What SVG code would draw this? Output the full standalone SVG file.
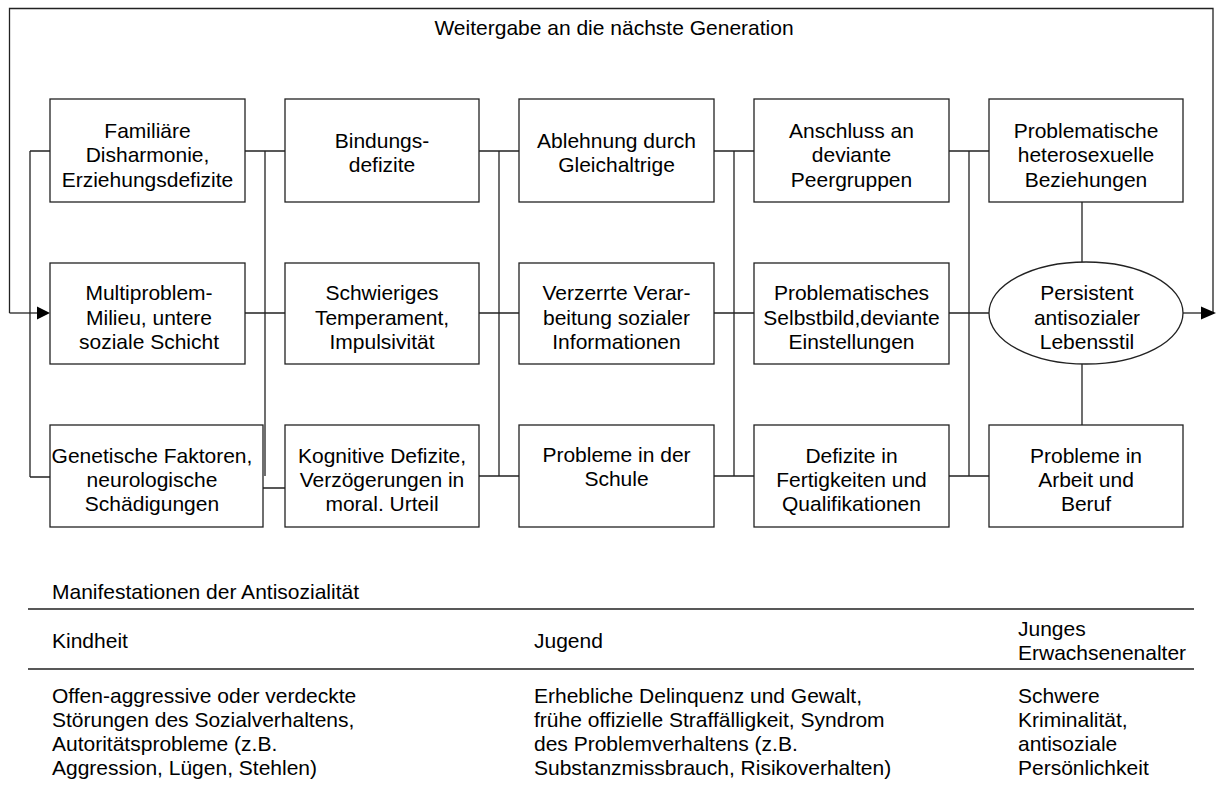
<svg xmlns="http://www.w3.org/2000/svg" width="1220" height="785" viewBox="0 0 1220 785">
<style>
.box{fill:#fff;stroke:#222;stroke-width:1.3}
.ln{fill:none;stroke:#222;stroke-width:1.3}
.t{font-family:"Liberation Sans",Arial,sans-serif;font-size:21px;fill:#000;text-anchor:middle}
.b{font-family:"Liberation Sans",Arial,sans-serif;font-size:21px;fill:#000}
.ah{fill:#000}
</style>
<rect width="1220" height="785" fill="#fff"/>
<text class="t" x="614" y="35">Weitergabe an die nächste Generation</text>

<g id="connectors">
  <path class="ln" d="M9.5,313 V8.5 H1213 V313"/>
  <path class="ln" d="M9.5,313 H38"/>
  <polygon class="ah" points="50,313 37,306.5 37,319.5"/>
  <path class="ln" d="M1183,313 H1202"/>
  <polygon class="ah" points="1216,313 1201,306.5 1201,319.5"/>
  <path class="ln" d="M30,151 V477 M30,151 H50 M30,477 H50"/>
  <path class="ln" d="M265,151 V476 M245,151 H285 M245,313 H285 M256,488 H287"/>
  <path class="ln" d="M499,151 V476 M479,151 H519 M479,313 H519 M479,476 H519"/>
  <path class="ln" d="M734,151 V476 M714,151 H754 M714,313 H754 M714,476 H754"/>
  <path class="ln" d="M969,151 V476 M949,151 H989 M949,313 H989 M949,476 H989"/>
  <path class="ln" d="M1082,202 V262 M1082,364 V425"/>
</g>

<g id="n11"><rect class="box" x="50" y="99" width="195" height="103"/>
<text class="t"><tspan x="147.5" y="138">Familiäre</tspan><tspan x="147.5" y="162">Disharmonie,</tspan><tspan x="147.5" y="187">Erziehungsdefizite</tspan></text></g>
<g id="n12"><rect class="box" x="285" y="99" width="194" height="103"/>
<text class="t"><tspan x="382" y="148">Bindungs-</tspan><tspan x="382" y="172">defizite</tspan></text></g>
<g id="n13"><rect class="box" x="519" y="99" width="195" height="103"/>
<text class="t"><tspan x="616.5" y="148">Ablehnung durch</tspan><tspan x="616.5" y="172">Gleichaltrige</tspan></text></g>
<g id="n14"><rect class="box" x="754" y="99" width="195" height="103"/>
<text class="t"><tspan x="851.5" y="138">Anschluss an</tspan><tspan x="851.5" y="162">deviante</tspan><tspan x="851.5" y="187">Peergruppen</tspan></text></g>
<g id="n15"><rect class="box" x="989" y="99" width="194" height="103"/>
<text class="t"><tspan x="1086" y="138">Problematische</tspan><tspan x="1086" y="162">heterosexuelle</tspan><tspan x="1086" y="187">Beziehungen</tspan></text></g>

<g id="n21"><rect class="box" x="50" y="263" width="195" height="101"/>
<text class="t"><tspan x="149" y="300">Multiproblem-</tspan><tspan x="149" y="325">Milieu, untere</tspan><tspan x="149" y="349">soziale Schicht</tspan></text></g>
<g id="n22"><rect class="box" x="285" y="263" width="194" height="101"/>
<text class="t"><tspan x="382" y="300">Schwieriges</tspan><tspan x="382" y="325">Temperament,</tspan><tspan x="382" y="349">Impulsivität</tspan></text></g>
<g id="n23"><rect class="box" x="519" y="263" width="195" height="101"/>
<text class="t"><tspan x="616.5" y="300">Verzerrte Verar-</tspan><tspan x="616.5" y="325">beitung sozialer</tspan><tspan x="616.5" y="349">Informationen</tspan></text></g>
<g id="n24"><rect class="box" x="754" y="263" width="195" height="101"/>
<text class="t"><tspan x="851.5" y="300">Problematisches</tspan><tspan x="851.5" y="325">Selbstbild,deviante</tspan><tspan x="851.5" y="349">Einstellungen</tspan></text></g>
<g id="n25"><ellipse class="box" cx="1086" cy="313" rx="97" ry="51"/>
<text class="t"><tspan x="1087" y="300">Persistent</tspan><tspan x="1087" y="325">antisozialer</tspan><tspan x="1087" y="349">Lebensstil</tspan></text></g>

<g id="n31"><rect class="box" x="50" y="425" width="213" height="102"/>
<text class="t"><tspan x="152" y="463">Genetische Faktoren,</tspan><tspan x="152" y="487">neurologische</tspan><tspan x="152" y="511">Schädigungen</tspan></text></g>
<g id="n32"><rect class="box" x="285" y="425" width="194" height="102"/>
<text class="t"><tspan x="382" y="463">Kognitive Defizite,</tspan><tspan x="382" y="487">Verzögerungen in</tspan><tspan x="382" y="511">moral. Urteil</tspan></text></g>
<g id="n33"><rect class="box" x="519" y="425" width="195" height="102"/>
<text class="t"><tspan x="616.5" y="462">Probleme in der</tspan><tspan x="616.5" y="486">Schule</tspan></text></g>
<g id="n34"><rect class="box" x="754" y="425" width="195" height="102"/>
<text class="t"><tspan x="851.5" y="463">Defizite in</tspan><tspan x="851.5" y="487">Fertigkeiten und</tspan><tspan x="851.5" y="511">Qualifikationen</tspan></text></g>
<g id="n35"><rect class="box" x="989" y="425" width="194" height="102"/>
<text class="t"><tspan x="1086" y="463">Probleme in</tspan><tspan x="1086" y="487">Arbeit und</tspan><tspan x="1086" y="511">Beruf</tspan></text></g>

<g id="table">
<text class="b" x="52" y="599">Manifestationen der Antisozialität</text>
<path class="ln" d="M28,609 H1194 M28,669 H1194"/>
<text class="b" x="52" y="648">Kindheit</text>
<text class="b" x="534" y="648">Jugend</text>
<text class="b"><tspan x="1018" y="636">Junges</tspan><tspan x="1018" y="660">Erwachsenenalter</tspan></text>
<text class="b"><tspan x="52" y="703">Offen-aggressive oder verdeckte</tspan><tspan x="52" y="727">Störungen des Sozialverhaltens,</tspan><tspan x="52" y="751">Autoritätsprobleme (z.B.</tspan><tspan x="52" y="775">Aggression, Lügen, Stehlen)</tspan></text>
<text class="b"><tspan x="534" y="703">Erhebliche Delinquenz und Gewalt,</tspan><tspan x="534" y="727">frühe offizielle Straffälligkeit, Syndrom</tspan><tspan x="534" y="751">des Problemverhaltens (z.B.</tspan><tspan x="534" y="775">Substanzmissbrauch, Risikoverhalten)</tspan></text>
<text class="b"><tspan x="1018" y="703">Schwere</tspan><tspan x="1018" y="727">Kriminalität,</tspan><tspan x="1018" y="751">antisoziale</tspan><tspan x="1018" y="775">Persönlichkeit</tspan></text>
</g>
</svg>
